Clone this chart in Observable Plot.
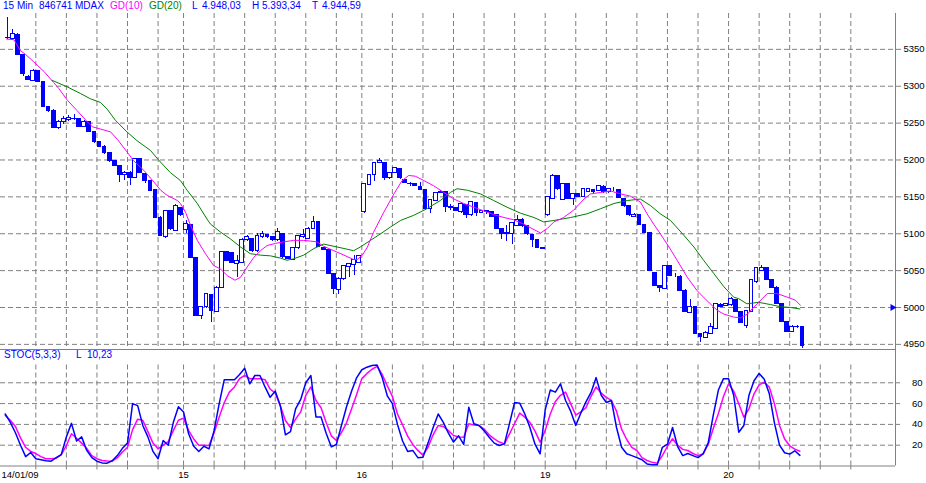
<!DOCTYPE html>
<html>
<head>
<meta charset="utf-8">
<script src="https://cdn.jsdelivr.net/npm/d3@7"></script>
<script src="https://cdn.jsdelivr.net/npm/@observablehq/plot@0.6"></script>
<style>
  html,body{margin:0;padding:0;background:#fff;}
  #wrap{position:relative;width:926px;height:483px;overflow:hidden;font-family:"Liberation Sans",Arial,sans-serif;}
  #price,#stoch{position:absolute;left:0;}
  #price{top:0}
  #stoch{top:348px}
  .lbl{position:absolute;font-size:10px;line-height:12px;white-space:pre;color:#0000ff;}
</style>
</head>
<body>
<div id="wrap">
  <div id="price"></div>
  <div id="stoch"></div>
  <div class="lbl" style="left:3px;top:0">15 Min</div>
  <div class="lbl" style="left:39px;top:0">846741</div>
  <div class="lbl" style="left:75px;top:0">MDAX</div>
  <div class="lbl" style="left:110px;top:0;color:#ff00ff">GD(10)</div>
  <div class="lbl" style="left:149px;top:0;color:#008000">GD(20)</div>
  <div class="lbl" style="left:192px;top:0">L</div>
  <div class="lbl" style="left:202px;top:0">4.948,03</div>
  <div class="lbl" style="left:252px;top:0">H</div>
  <div class="lbl" style="left:262px;top:0">5.393,34</div>
  <div class="lbl" style="left:312px;top:0">T</div>
  <div class="lbl" style="left:322px;top:0">4.944,59</div>
  <div class="lbl" style="left:4px;top:349px">STOC(5,3,3)</div>
  <div class="lbl" style="left:76px;top:349px">L</div>
  <div class="lbl" style="left:87px;top:349px">10,23</div>
</div>
<script>
// ---------- data ----------
const open = [
 5366,5364,5370,5342,5313,5307,5320,5306,5272,5267,
 5244,5252,5254,5256,5255,5245,5251,5238,5224,5218,
 5209,5198,5192,5179,5183,5176,5201,5181,5171,5159,
 5122,5095,5131,5104,5135,5105,5112,5067,4988,5000,
 5017,4994,5027,5075,5074,5059,5061,5091,5093,5076,
 5095,5098,5095,5091,5100,5068,5065,5080,5096,5093,
 5107,5116,5080,5078,5045,5024,5038,5055,5058,5061,
 5129,5166,5179,5196,5196,5175,5183,5188,5173,5168,
 5167,5164,5159,5133,5145,5155,5156,5136,5135,5129,
 5139,5125,5142,5128,5130,5129,5125,5106,5099,5099,
 5111,5119,5110,5098,5091,5080,5125,5147,5178,5146,
 5167,5147,5154,5150,5157,5159,5158,5164,5156,5158,
 5159,5147,5137,5123,5125,5112,5101,5047,5029,5025,
 5056,5043,5042,5023,4993,5000,4964,4959,4964,4971,
 5004,5002,5003,5010,4994,4975,4994,5034,5050,5053,
 5037,5027,5005,4980,4967,4974,4973];
const high = [
 5393.3,5377,5371,5343,5314,5322,5321,5307,5273,5268,
 5253,5259,5260,5262,5256,5253,5252,5239,5225,5219,
 5210,5199,5193,5184,5184,5202,5202,5182,5172,5160,
 5123,5132,5132,5139,5136,5118,5113,5068,5002,5019,
 5018,5028,5075,5076,5075,5070,5093,5098,5094,5101,
 5103,5099,5096,5107,5101,5069,5081,5097,5106,5108,
 5123,5117,5082,5079,5046,5040,5057,5060,5071,5071,
 5168,5180,5197,5202,5197,5183,5190,5189,5174,5170,
 5168,5170,5160,5147,5156,5158,5157,5140,5136,5140,
 5140,5143,5143,5132,5131,5130,5126,5107,5111,5114,
 5125,5120,5111,5099,5092,5081,5150,5180,5179,5168,
 5168,5155,5155,5160,5161,5160,5166,5165,5161,5163,
 5160,5148,5138,5127,5126,5113,5102,5048,5030,5057,
 5057,5046,5043,5024,5011,5001,4965,4967,4978,5006,
 5005,5006,5013,5011,4995,4995,5037,5053,5057,5054,
 5038,5028,5006,4981,4975,4975,4974];
const low = [
 5363,5362,5342,5313,5308,5306,5305,5271,5264,5243,
 5241,5248,5252,5254,5244,5244,5237,5223,5217,5208,
 5197,5191,5170,5172,5165,5175,5182,5168,5157,5121,
 5096,5094,5104,5103,5124,5101,5067,4988,4984,4999,
 4979,4993,5026,5062,5059,5041,5060,5090,5075,5075,
 5094,5094,5090,5090,5067,5065,5064,5079,5093,5092,
 5106,5081,5077,5046,5018,5017,5037,5041,5044,5060,
 5128,5165,5171,5195,5172,5174,5182,5174,5168,5164,
 5164,5158,5132,5128,5144,5154,5129,5131,5130,5128,
 5120,5124,5123,5127,5126,5122,5106,5092,5090,5085,
 5110,5109,5098,5082,5080,5078,5124,5146,5159,5145,
 5147,5138,5149,5149,5156,5155,5157,5155,5155,5157,
 5148,5136,5124,5122,5111,5100,5050,5028,5020,5024,
 5043,5040,5022,4993,4992,4964,4953,4958,4963,4970,
 5000,5001,5002,4993,4979,4972,4993,5033,5049,5036,
 5026,5004,4979,4966,4966,4972,4944.6];
const close = [
 5365,5371,5343,5316,5309,5321,5306,5272,5267,5244,
 5252,5256,5257,5255,5245,5252,5238,5224,5218,5209,
 5198,5192,5180,5182,5176,5202,5183,5171,5158,5122,
 5097,5131,5107,5137,5125,5113,5067,4988,5001,5018,
 4995,5027,5075,5063,5060,5063,5092,5095,5076,5097,
 5099,5095,5091,5103,5068,5066,5080,5097,5098,5107,
 5116,5082,5078,5046,5025,5039,5056,5059,5064,5070,
 5168,5179,5196,5199,5176,5183,5189,5175,5169,5167,
 5165,5159,5133,5146,5155,5157,5136,5135,5131,5140,
 5125,5143,5128,5131,5131,5123,5107,5099,5101,5114,
 5119,5110,5099,5092,5080,5079,5150,5178,5160,5168,
 5147,5154,5150,5160,5160,5156,5165,5156,5160,5158,
 5149,5137,5125,5126,5112,5101,5050,5029,5026,5056,
 5043,5043,5023,4994,5000,4964,4960,4966,4973,5005,
 5001,5005,5012,4994,4979,4995,5037,5053,5054,5037,
 5027,5005,4980,4967,4974,4973,4948.03];

// moving averages (bar position, value)
const gd10Idx = [-0.26,1.2,2.5,3.5,5.1,7.1,9.0,10.0,11.7,13.6,15.3,16.6,18.2,20.2,21.5,23.4,24.7,26.7,28.7,30.0,
 31.3,33.3,33.9,34.9,35.9,37.2,38.8,40.4,41.8,43.1,44.6,45.7,47.0,48.3,49.6,50.9,52.6,54.2,56.1,58.1,
 59.4,60.7,62.0,64.0,66.0,67.9,68.6,69.6,70.6,71.8,73.8,75.8,77.4,78.7,80.0,81.7,83.6,85.6,87.6,89.5,
 91.5,93.4,95.4,97.4,99.3,101.3,102.9,104.6,105.9,107.2,108.5,109.1,111.1,113.1,114.4,116.4,118.3,120.3,122.2,124.2,
 125.5,126.8,128.1,129.8,131.4,133.4,135.3,137.3,139.3,140.6,142.5,143.8,145.2,146.1,147.4,149.1,151.0,153.0,154.6,155.6];
const gd10Val = [5364,5363,5348,5343,5333,5320,5305,5297,5281,5267,5254,5245,5242,5238,5228,5211,5199,5186,5170,5159,
 5152,5145,5141,5129,5111,5091,5073,5057,5052,5043,5037,5041,5055,5068,5077,5084,5087,5089,5091,5091,
 5090,5089,5083,5077,5071,5065,5065,5071,5082,5102,5129,5154,5172,5179,5178,5172,5165,5156,5147,5141,
 5136,5131,5126,5122,5119,5113,5107,5101,5107,5116,5120,5122,5132,5147,5154,5156,5158,5154,5151,5143,
 5127,5113,5100,5082,5064,5041,5023,5009,4996,4991,4987,4986,4991,4998,5007,5019,5019,5014,5010,5003];
const gd20Idx = [8.7,11.7,14.3,16.2,18.2,19.5,21.1,23.4,25.4,28.0,29.6,31.9,33.9,35.2,37.2,39.1,39.8,41.8,
 43.7,45.7,47.6,49.6,51.6,53.5,54.8,56.1,58.1,60.1,62.0,64.0,66.0,67.9,69.2,71.2,73.2,75.1,77.1,79.7,
 82.3,84.9,86.9,88.2,90.2,92.8,95.4,98.0,100.6,103.3,105.2,107.2,110.5,113.7,116.4,119.0,121.6,124.2,126.2,128.1,
 130.1,132.7,134.7,136.6,138.6,140.6,142.5,143.5,145.1,147.4,149.7,151.7,153.7,155.5];
const gd20Val = [5308,5299,5290,5283,5278,5269,5254,5238,5226,5213,5200,5183,5172,5159,5141,5120,5113,5102,
 5093,5082,5073,5071,5070,5067,5064,5066,5071,5080,5086,5083,5080,5077,5082,5091,5100,5109,5118,5125,
 5134,5145,5156,5161,5159,5154,5145,5136,5128,5122,5116,5118,5122,5127,5134,5141,5145,5147,5138,5127,
 5118,5098,5082,5064,5046,5028,5014,5012,5005,5007,5004,5001,5000,4998];

// stochastic (one value per bar)
const stochK = [
 50,42,32,20,9,13,7,6,5,4.6,
 8,11,28,41,24,28,15,8,4.6,3,
 2.7,5,10,17,22,60,58,39,28,14,
 7,24.5,20,42,57,52,31,19,14,19,
 16.5,34,60,83,83,83,88,94,79,87,
 87,76,66,72,58,30,33,55,64,80,
 87,47,47,31.5,18.4,20.7,39,57,72,85,
 92.5,95,96.6,97,85,67.5,60,40,24,14,
 15,8,8.5,22,37,50,42,31.5,23,29,
 20.7,56.5,40.6,39,34,27.7,22,19.7,21.3,41,
 61,60.4,50,37,21,11.7,54,73,71,79,
 63,52.7,39,51,61.7,70.7,85,68,61,63,
 37,18,11.7,10,8,6,2,1.2,1.2,18,
 21,37,18.7,10,12,10,8,11.7,22.3,49,
 73,84,84,68,32.5,39,68,82,89,83.5,
 69.4,41.5,20,12.7,11.4,14.6,10.23];
const stochD = [
 48.6,44,38,27,18,14,12,9,7,7,
 7.5,11,19.7,31,26.7,22,16.8,10,7,5.3,
 4.8,4.6,8,13.5,18,35,45,44,33,22,
 16.5,20,23.5,34,44,46,34,26,20,20,
 19.7,32,47,61,71,76,84,87,84,84,
 84,83,74,70,57.9,43.8,37,45,52,68,
 76,63,56,41.8,29,24.5,32,41.5,55,69,
 84,89,93,95.7,88,77,67,50,39.6,28.7,
 20.7,15,10.5,18,30,39,38,34,29.3,28,
 27.7,40.6,39.5,39,35.5,30,26,23,21.3,30.9,
 40.9,50.9,47,42,33.5,22.9,34,50,62,68,
 71,60,49,52,56,67,76,70,66,63,
 52.7,35.4,25.5,18,14.9,8,5.3,3.5,2.7,10,
 19,26.2,20,16,14.9,12,10,11.7,20.7,36,
 50.5,66.8,79,72,59.8,47,55,69.4,78,80.6,
 75.8,59.8,39,26,19.4,16.2,14.2];

const priceTicks = [4950,5000,5050,5100,5150,5200,5250,5300,5350];
const stochTicks = [20,40,60,80];
const gridIdx = [5.5,11.5,17.5,23.5,29.5,34.5,40.5,46.5,52.5,58.5,64.5,69.5,75.5,81.5,87.5,93.5,99.5,105.5,
 111.5,117.5,123.5,129.5,135.5,141.5,147.5,153.5,159.5,165.5];
const stochGridIdx = gridIdx.filter(d => d !== 69.5);
const dayIdx = [34.5,69.5,105.5,141.5];
const dayLabels = ["15","16","19","20"];
const firstDayLabel = "14/01/09";
const markerLevel = [5000];

// ---------- chart ----------
const bars = open.map((o,i)=>({i, o, h:high[i], l:low[i], c:close[i]}));
const up = bars.filter(d=>d.c>=d.o), down = bars.filter(d=>d.c<d.o);
const xDomain = [-1.433, 174.27];
const GRID = "#808080", BLUE = "#0000ff", MAG = "#ff00ff", GREEN = "#008000";
const dash = {stroke:GRID, strokeOpacity:1, strokeDasharray:"5,3"};
const font = {background:"transparent", fontFamily:"Liberation Sans, Arial, sans-serif", fontSize:"9.5px", overflow:"visible"};
const HW = 0.37;

const pricePlot = Plot.plot({
  width:926, height:349, marginTop:13, marginRight:31, marginBottom:0, marginLeft:0,
  style:font,
  x:{domain:xDomain, axis:null},
  y:{domain:[4943.05,5398.6], axis:null},
  marks:[
    Plot.gridY(priceTicks, dash),
    Plot.gridX(gridIdx, dash),
    Plot.axisY(priceTicks, {anchor:"right", tickSize:5, tickPadding:3, stroke:GRID, fill:"black", tickFormat:d3.format("d")}),
    Plot.ruleX([xDomain[1]], {stroke:GRID}),
    Plot.ruleX(bars, {x:"i", y1:"l", y2:"h", stroke:BLUE, shapeRendering:"crispEdges"}),
    Plot.rect(up, {x1:d=>d.i-HW, x2:d=>d.i+HW, y1:"o", y2:"c", fill:"white", stroke:BLUE, shapeRendering:"crispEdges"}),
    Plot.rect(down, {x1:d=>d.i-HW, x2:d=>d.i+HW, y1:"o", y2:"c", fill:BLUE, stroke:BLUE, shapeRendering:"crispEdges"}),
    Plot.line(gd20Idx, {x:d=>d, y:(d,i)=>gd20Val[i], stroke:GREEN, strokeWidth:1}),
    Plot.line(gd10Idx, {x:d=>d, y:(d,i)=>gd10Val[i], stroke:MAG, strokeWidth:1}),
    Plot.dot(markerLevel, {y:d=>d, frameAnchor:"right", dx:-3, symbol:"triangle", rotate:90, r:2.6, fill:BLUE, stroke:null})
  ]
});
document.getElementById("price").appendChild(pricePlot);

const stochPlot = Plot.plot({
  width:926, height:135, marginTop:1, marginRight:31, marginBottom:17.5, marginLeft:0,
  style:font,
  x:{domain:xDomain, axis:null},
  y:{domain:[0,112], axis:null},
  marks:[
    Plot.gridY(stochTicks, dash),
    Plot.gridX(stochGridIdx, {...dash, y1:0, y2:100}),
    Plot.axisY(stochTicks, {anchor:"right", tickSize:4, tickPadding:23, textAnchor:"end", stroke:GRID, fill:"black", tickFormat:d3.format("d")}),
    Plot.axisX(stochGridIdx, {anchor:"bottom", tickSize:4, stroke:GRID, tickFormat:()=>""}),
    Plot.text(dayIdx, {x:d=>d, text:(d,i)=>dayLabels[i], frameAnchor:"bottom", lineAnchor:"top", dy:5.5, fill:"black"}),
    Plot.text([firstDayLabel], {frameAnchor:"bottom-left", textAnchor:"start", lineAnchor:"top", dy:5.5, dx:1, fill:"black"}),
    Plot.ruleY([0], {stroke:GRID}),
    Plot.ruleY([112], {stroke:GRID}),
    Plot.ruleX([xDomain[1]], {stroke:GRID}),
    Plot.line(stochD, {x:(d,i)=>i, y:d=>d, stroke:MAG, dx:-2.55}),
    Plot.line(stochK, {x:(d,i)=>i, y:d=>d, stroke:BLUE, dx:-2.55})
  ]
});
document.getElementById("stoch").appendChild(stochPlot);
</script>
</body>
</html>
